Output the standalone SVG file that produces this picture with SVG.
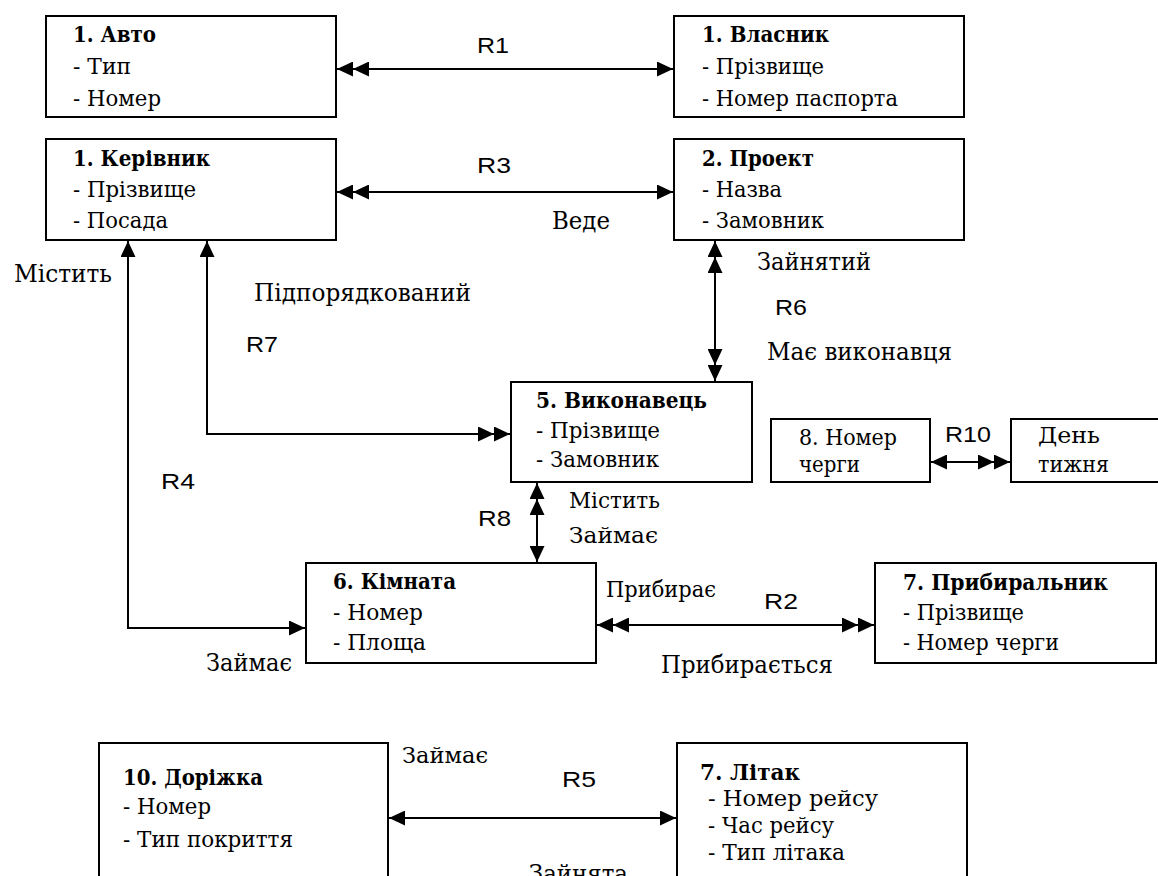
<svg xmlns="http://www.w3.org/2000/svg" width="1158" height="876" viewBox="0 0 1158 876">
  <defs>
    <style>
      .box{fill:#fff;stroke:#000;stroke-width:2}
      .t{font-family:"DejaVu Serif","Liberation Serif",serif;font-size:22px;fill:#000}
      .b{font-weight:bold}
      .lbl{font-family:"DejaVu Serif","Liberation Serif",serif;font-size:24px;fill:#000}
      .r{font-family:"Liberation Sans",Arial,sans-serif;font-size:22px;fill:#000}
      .ln{fill:none;stroke:#000;stroke-width:2}
    </style>
    <!-- single filled arrowhead -->
    <marker id="one" viewBox="0 0 16 15" refX="16" refY="7.5" markerWidth="16" markerHeight="15" markerUnits="userSpaceOnUse" orient="auto-start-reverse">
      <path d="M0,0 L16,7.5 L0,15 Z" fill="#000"/>
    </marker>
    <!-- double filled arrowhead (many side) -->
    <marker id="two" viewBox="0 0 32 15" refX="32" refY="7.5" markerWidth="32" markerHeight="15" markerUnits="userSpaceOnUse" orient="auto-start-reverse">
      <path d="M0,0 L16,7.5 L0,15 Z M16,0 L32,7.5 L16,15 Z" fill="#000"/>
    </marker>
  </defs>
  <rect width="1158" height="876" fill="#fff"/>

  <!-- relationships -->
  <g id="connectors">
    <path class="ln" d="M337,69 H673" marker-start="url(#two)" marker-end="url(#one)"/>
    <path class="ln" d="M337,192 H673" marker-start="url(#two)" marker-end="url(#one)"/>
    <path class="ln" d="M128,241 V628 H305" marker-start="url(#one)" marker-end="url(#one)"/>
    <path class="ln" d="M207,241 V434 H510" marker-start="url(#one)" marker-end="url(#two)"/>
    <path class="ln" d="M715,241 V381" marker-start="url(#two)" marker-end="url(#two)"/>
    <path class="ln" d="M537,483 V562" marker-start="url(#two)" marker-end="url(#one)"/>
    <path class="ln" d="M931,462 H1010" marker-start="url(#one)" marker-end="url(#two)"/>
    <path class="ln" d="M597,625 H874" marker-start="url(#two)" marker-end="url(#two)"/>
    <path class="ln" d="M389,818 H676" marker-start="url(#one)" marker-end="url(#one)"/>

    <text class="r" x="477" y="53" textLength="32" lengthAdjust="spacingAndGlyphs">R1</text>
    <text class="r" x="477" y="173" textLength="34" lengthAdjust="spacingAndGlyphs">R3</text>
    <text class="lbl" x="552" y="229" textLength="58" lengthAdjust="spacingAndGlyphs">Веде</text>
    <text class="lbl" x="14" y="282" textLength="98" lengthAdjust="spacingAndGlyphs">Містить</text>
    <text class="lbl" x="254" y="301" textLength="217" lengthAdjust="spacingAndGlyphs">Підпорядкований</text>
    <text class="r" x="246" y="352" textLength="32" lengthAdjust="spacingAndGlyphs">R7</text>
    <text class="r" x="161" y="489" textLength="34" lengthAdjust="spacingAndGlyphs">R4</text>
    <text class="lbl" x="757" y="270" textLength="114" lengthAdjust="spacingAndGlyphs">Зайнятий</text>
    <text class="r" x="775" y="315" textLength="32" lengthAdjust="spacingAndGlyphs">R6</text>
    <text class="lbl" x="767" y="360" textLength="185" lengthAdjust="spacingAndGlyphs">Має виконавця</text>
    <text class="r" x="945" y="442" textLength="46" lengthAdjust="spacingAndGlyphs">R10</text>
    <text class="t" x="569" y="508" textLength="91" lengthAdjust="spacingAndGlyphs">Містить</text>
    <text class="t" x="569" y="543" textLength="89" lengthAdjust="spacingAndGlyphs">Займає</text>
    <text class="r" x="478" y="526" textLength="33" lengthAdjust="spacingAndGlyphs">R8</text>
    <text class="t" x="606" y="597" textLength="110" lengthAdjust="spacingAndGlyphs">Прибирає</text>
    <text class="r" x="764" y="609" textLength="34" lengthAdjust="spacingAndGlyphs">R2</text>
    <text class="lbl" x="661" y="673" textLength="172" lengthAdjust="spacingAndGlyphs">Прибирається</text>
    <text class="lbl" x="206" y="671" textLength="86" lengthAdjust="spacingAndGlyphs">Займає</text>
    <text class="t" x="402" y="763" textLength="86" lengthAdjust="spacingAndGlyphs">Займає</text>
    <text class="r" x="562" y="787" textLength="34" lengthAdjust="spacingAndGlyphs">R5</text>
    <text class="lbl" x="529" y="882" textLength="99" lengthAdjust="spacingAndGlyphs">Зайнята</text>
  </g>

  <g id="avto">
    <rect class="box" x="46" y="16" width="290" height="101"/>
    <text class="t b" x="73" y="42" textLength="83" lengthAdjust="spacingAndGlyphs">1. Авто</text>
    <text class="t" x="73" y="74" textLength="58" lengthAdjust="spacingAndGlyphs">- Тип</text>
    <text class="t" x="73" y="106" textLength="88" lengthAdjust="spacingAndGlyphs">- Номер</text>
  </g>

  <g id="vlasnyk">
    <rect class="box" x="674" y="16" width="290" height="101"/>
    <text class="t b" x="702" y="42" textLength="127" lengthAdjust="spacingAndGlyphs">1. Власник</text>
    <text class="t" x="702" y="74" textLength="122" lengthAdjust="spacingAndGlyphs">- Прізвище</text>
    <text class="t" x="702" y="106" textLength="196" lengthAdjust="spacingAndGlyphs">- Номер паспорта</text>
  </g>

  <g id="kerivnyk">
    <rect class="box" x="46" y="139" width="290" height="101"/>
    <text class="t b" x="73" y="166" textLength="137" lengthAdjust="spacingAndGlyphs">1. Керівник</text>
    <text class="t" x="73" y="197" textLength="123" lengthAdjust="spacingAndGlyphs">- Прізвище</text>
    <text class="t" x="73" y="228" textLength="95" lengthAdjust="spacingAndGlyphs">- Посада</text>
  </g>

  <g id="proekt">
    <rect class="box" x="674" y="139" width="290" height="101"/>
    <text class="t b" x="702" y="166" textLength="112" lengthAdjust="spacingAndGlyphs">2. Проект</text>
    <text class="t" x="702" y="197" textLength="80" lengthAdjust="spacingAndGlyphs">- Назва</text>
    <text class="t" x="702" y="228" textLength="122" lengthAdjust="spacingAndGlyphs">- Замовник</text>
  </g>

  <g id="vykonavets">
    <rect class="box" x="511" y="382" width="241" height="100"/>
    <text class="t b" x="536" y="408" textLength="171" lengthAdjust="spacingAndGlyphs">5. Виконавець</text>
    <text class="t" x="536" y="438" textLength="124" lengthAdjust="spacingAndGlyphs">- Прізвище</text>
    <text class="t" x="536" y="467" textLength="123" lengthAdjust="spacingAndGlyphs">- Замовник</text>
  </g>

  <g id="nomer-chergy">
    <rect class="box" x="771" y="419" width="159" height="63"/>
    <text class="t" x="799" y="445" textLength="98" lengthAdjust="spacingAndGlyphs">8. Номер</text>
    <text class="t" x="799" y="472" textLength="61" lengthAdjust="spacingAndGlyphs">черги</text>
  </g>

  <g id="den-tyzhnia">
    <rect class="box" x="1011" y="419" width="170" height="63"/>
    <text class="t" x="1038" y="443" textLength="62" lengthAdjust="spacingAndGlyphs">День</text>
    <text class="t" x="1038" y="472" textLength="71" lengthAdjust="spacingAndGlyphs">тижня</text>
  </g>

  <g id="kimnata">
    <rect class="box" x="306" y="563" width="290" height="100"/>
    <text class="t b" x="333" y="589" textLength="123" lengthAdjust="spacingAndGlyphs">6. Кімната</text>
    <text class="t" x="333" y="620" textLength="90" lengthAdjust="spacingAndGlyphs">- Номер</text>
    <text class="t" x="333" y="650" textLength="93" lengthAdjust="spacingAndGlyphs">- Площа</text>
  </g>

  <g id="prybyralnyk">
    <rect class="box" x="875" y="563" width="281" height="100"/>
    <text class="t b" x="903" y="590" textLength="205" lengthAdjust="spacingAndGlyphs">7. Прибиральник</text>
    <text class="t" x="903" y="620" textLength="121" lengthAdjust="spacingAndGlyphs">- Прізвище</text>
    <text class="t" x="903" y="650" textLength="156" lengthAdjust="spacingAndGlyphs">- Номер черги</text>
  </g>

  <g id="dorizhka">
    <rect class="box" x="99" y="743" width="289" height="145"/>
    <text class="t b" x="123" y="785" textLength="140" lengthAdjust="spacingAndGlyphs">10. Доріжка</text>
    <text class="t" x="123" y="814" textLength="88" lengthAdjust="spacingAndGlyphs">- Номер</text>
    <text class="t" x="123" y="847" textLength="170" lengthAdjust="spacingAndGlyphs">- Тип покриття</text>
  </g>

  <g id="litak">
    <rect class="box" x="677" y="743" width="290" height="145"/>
    <text class="t b" x="700" y="780" textLength="100" lengthAdjust="spacingAndGlyphs">7. Літак</text>
    <text class="t" x="708" y="806" textLength="170" lengthAdjust="spacingAndGlyphs">- Номер рейсу</text>
    <text class="t" x="708" y="833" textLength="126" lengthAdjust="spacingAndGlyphs">- Час рейсу</text>
    <text class="t" x="708" y="860" textLength="137" lengthAdjust="spacingAndGlyphs">- Тип літака</text>
  </g>
</svg>
